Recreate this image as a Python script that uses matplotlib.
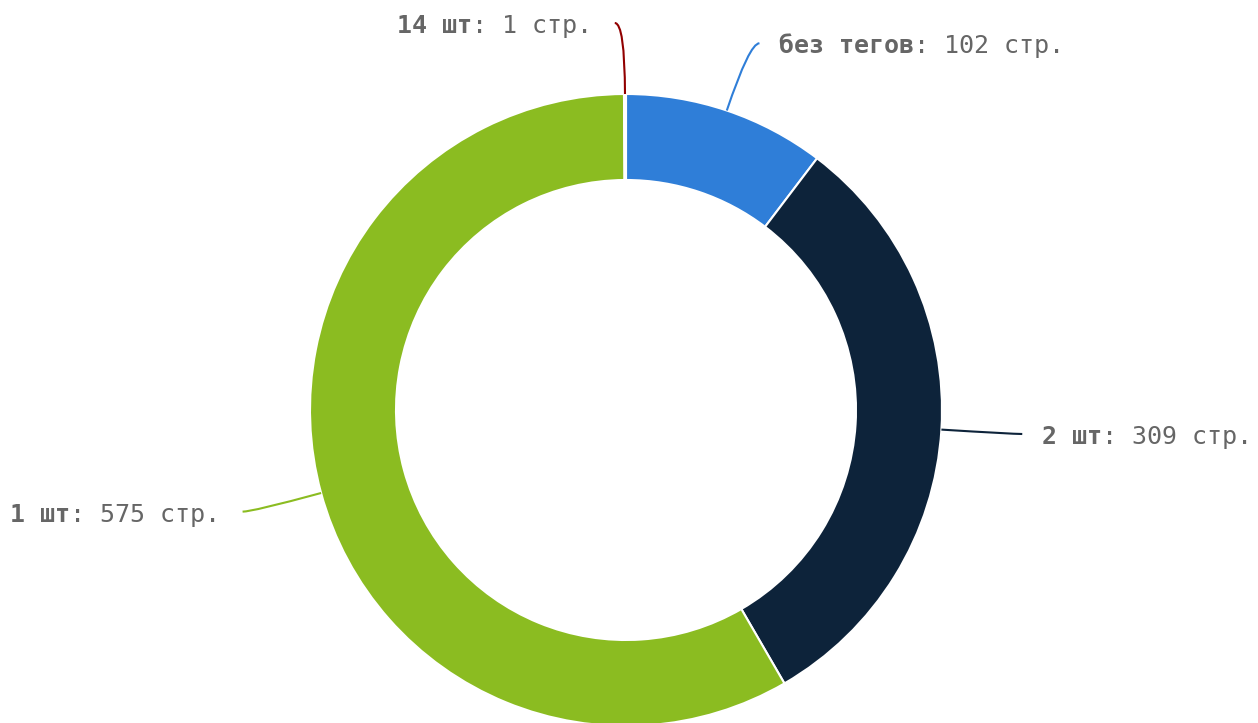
import numpy as np
import matplotlib
matplotlib.use("Agg")
import matplotlib.pyplot as plt
from matplotlib.path import Path
from matplotlib.patches import PathPatch

# ---- data ----
categories = ["без тегов", "2 шт", "1 шт", "14 шт"]
values = [102, 309, 575, 1]
unit = "стр."
colors = ["#2F7ED8", "#0D233A", "#8BBC21", "#910000"]

W, H = 1258, 723
fig = plt.figure(figsize=(W / 100, H / 100), dpi=100)
ax = fig.add_axes([0, 0, 1, 1])

cx, cy = 626, H - 410
R = 316
inner = 230

ax.pie(values, colors=colors, startangle=90, counterclock=False,
       center=(cx, cy), radius=R, frame=True,
       wedgeprops=dict(width=R - inner, edgecolor="white", linewidth=1.5))
ax.set_xlim(0, W)
ax.set_ylim(0, H)
ax.set_aspect("equal")
ax.axis("off")

total = sum(values)
cum = np.cumsum([0] + values)
txt_color = "#666666"
fs = 18
dist = 71
mono = "DejaVu Sans Mono"

for i, (cat, v) in enumerate(zip(categories, values)):
    mid = (cum[i] + cum[i + 1]) / 2 / total * 2 * np.pi  # clockwise from top
    sx, sy = np.sin(mid), np.cos(mid)
    p0 = (cx + R * sx, cy + R * sy)
    p1 = (cx + (R + dist) * sx, cy + (R + dist) * sy)
    side = 1 if sx >= 0 else -1
    p2 = (p1[0] + side * 10, p1[1])
    path = Path([p0, p1, p2], [Path.MOVETO, Path.CURVE3, Path.CURVE3])
    ax.add_patch(PathPatch(path, facecolor="none", edgecolor=colors[i], lw=1.5))
    tx = p2[0] + side * 20
    ty = p2[1] - 3
    rest = f": {v} {unit}"
    if side > 0:
        t1 = ax.text(tx, ty, cat, ha="left", va="center", fontsize=fs,
                     fontweight="bold", color=txt_color, family=mono)
        ax.annotate(rest, xy=(1, 0), xycoords=t1, ha="left", va="bottom",
                    fontsize=fs, color=txt_color, family=mono)
    else:
        t1 = ax.text(tx - 3, ty, rest, ha="right", va="center", fontsize=fs,
                     color=txt_color, family=mono)
        ax.annotate(cat, xy=(0, 0), xycoords=t1, ha="right", va="bottom",
                    fontsize=fs, fontweight="bold", color=txt_color, family=mono)

fig.savefig("out.png", dpi=100, facecolor="white")
